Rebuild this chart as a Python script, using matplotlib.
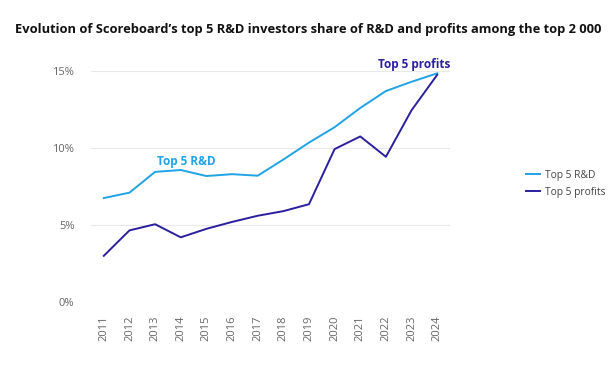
import matplotlib.pyplot as plt
import numpy as np

years = np.arange(2011, 2025)
rd_share = [6.75, 7.1, 8.45, 8.57, 8.18, 8.3, 8.2, 9.25, 10.35, 11.35, 12.6, 13.7, 14.3, 14.85]
profit_share = [3.0, 4.65, 5.05, 4.2, 4.75, 5.2, 5.6, 5.9, 6.35, 9.93, 10.75, 9.43, 12.45, 14.75]
yticks = [0, 5, 10, 15]

c_rd = "#1fa3e6"
c_pr = "#2a1f9e"
plt.rcParams['font.family'] = ['Open Sans', 'DejaVu Sans']

fig = plt.figure(figsize=(6.16, 3.69), dpi=100)
ax = fig.add_axes([91/616, 1 - 302/369, 359/616, 231/369])

ax.plot(years, rd_share, color=c_rd, lw=1.4, label="Top 5 R&D", clip_on=False)
ax.plot(years, profit_share, color=c_pr, lw=1.4, label="Top 5 profits", clip_on=False)

ax.set_xlim(2010.5, 2024.5)
ax.set_ylim(0, 15)
ax.set_yticks(yticks)
ax.set_yticklabels([f"{v}%" for v in yticks])
ax.set_xticks(years)
ax.set_xticklabels([str(y) for y in years], rotation=90)
ax.tick_params(length=0, labelsize=8, labelcolor="#666666")
ax.tick_params(axis='y', pad=12)
ax.tick_params(axis='x', pad=10)
ax.grid(axis='y', color="#e8e8e8", lw=0.8)
ax.set_axisbelow(True)
for s in ax.spines.values():
    s.set_visible(False)

ax.text(2014.2, 9.1, "Top 5 R&D", color=c_rd, fontsize=8.5, fontweight='bold', ha='center', va='center')
ax.text(2023.1, 15.4, "Top 5 profits", color=c_pr, fontsize=8.5, fontweight='bold', ha='center', va='center')

fig.legend(loc='center left', bbox_to_anchor=(517/616, 1 - 184/369), frameon=False,
           fontsize=7.4, handlelength=1.3, handletextpad=0.5, labelspacing=0.6, labelcolor="#444444")

fig.text(0.5, 1 - 30/369, "Evolution of Scoreboard\u2019s top 5 R&D investors share of R&D and profits among the top 2 000",
         ha='center', va='center', fontsize=9.3, fontweight='bold', color="#111111")

fig.savefig("out.png", dpi=100)
